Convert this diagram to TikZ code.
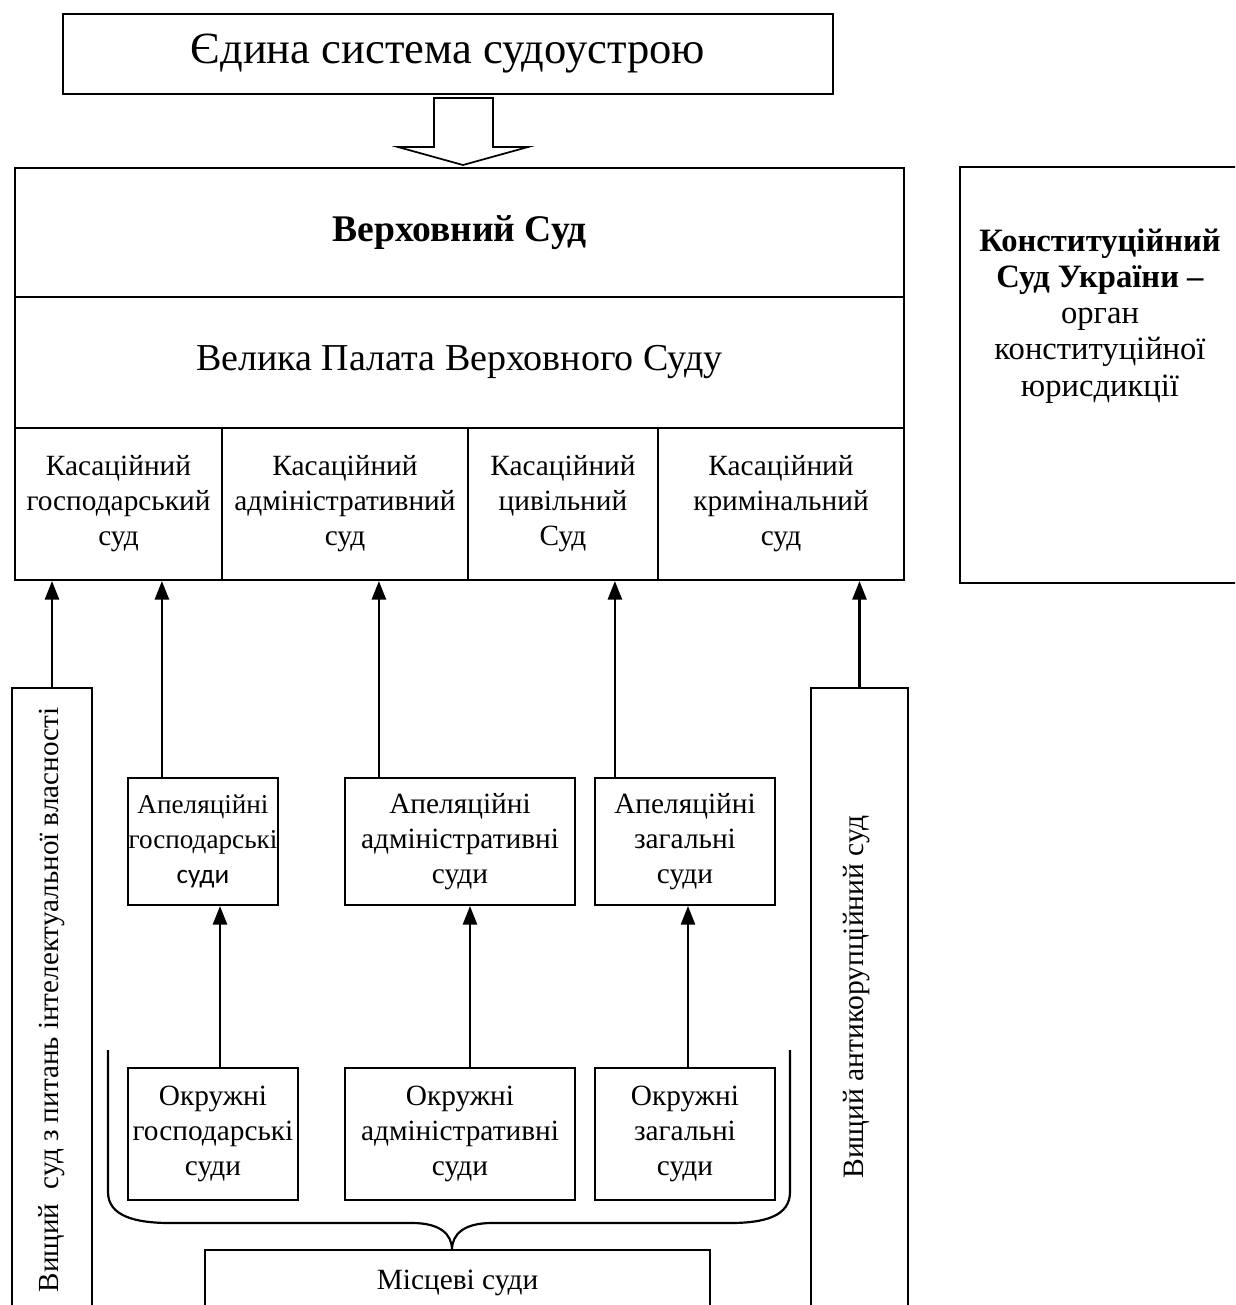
\documentclass[tikz,border=0pt]{standalone}
\usepackage{fontspec}
\setmainfont{Liberation Serif}
\newfontfamily\calibrifont{Carlito}
\usetikzlibrary{arrows.meta,calc,positioning}
\newcommand{\px}{0.46pt}
\newcommand{\fs}[1]{\fontsize{#1}{16.1}\selectfont}

\tikzset{
  cell/.style={draw, line width=1pt, align=center, inner sep=0pt, font=\fs{13.5}},
  arr/.style={-{Triangle[width=6.5pt,length=8.5pt]}, line width=1pt},
}

\begin{document}
\begin{tikzpicture}[x=0.46pt, y=-0.46pt]
    \useasboundingbox (0,0) rectangle (1235,1305);
    \clip (0,0) rectangle (1235,1305);

    % Top box and hollow arrow
    \node[cell, minimum width=770*\px, minimum height=80*\px, font=\fs{20.5}] (sys) at (448,54) {Єдина система судоустрою};
    \draw[line width=0.8pt, fill=white] (434,98) -- (493,98) -- (493,147) -- (528,147) -- (463,165) -- (398,147) -- (434,147) -- cycle;

    % Supreme Court
    \node[cell, minimum width=889*\px, minimum height=129*\px, font=\fs{17.3}\bfseries] (vs) at (459.5,232.5) {Верховний Суд};
    \node[cell, minimum width=889*\px, minimum height=131*\px, font=\fs{17.5}] (vp) at (459.5,362.5) {Велика Палата Верховного Суду};
    \node[cell, minimum width=207*\px, minimum height=152*\px] (k1) at (118.5,504) {Касаційний\\господарський\\суд};
    \node[cell, minimum width=246*\px, minimum height=152*\px] (k2) at (345,504) {Касаційний\\адміністративний\\суд};
    \node[cell, minimum width=190*\px, minimum height=152*\px] (k3) at (563,504) {Касаційний\\цивільний\\Суд};
    \node[cell, minimum width=246*\px, minimum height=152*\px] (k4) at (781,504) {Касаційний\\кримінальний\\суд};

    % Constitutional Court
    \node[cell, minimum width=300*\px, minimum height=416*\px] (ksu) at (1110,375) {};
    \node[align=center, font=\fontsize{15}{16.6}\selectfont] (ksut) at (1100,316) {\textbf{Конституційний}\\\textbf{Суд України –}\\орган\\конституційної\\юрисдикції};

    % Higher specialized courts
    \node[cell, minimum width=80*\px, minimum height=632*\px] (vl) at (52,1004) {};
    \node[rotate=90, font=\fs{13.4}] (vlt) at (52,1000) {Вищий\ \ суд з питань інтелектуальної власності};
    \node[cell, minimum width=97*\px, minimum height=632*\px] (vr) at (859.5,1004) {};
    \node[rotate=90, font=\fs{13.6}] (vrt) at (857,997) {Вищий антикорупційний суд};

    % Appeal courts
    \node[cell, minimum width=150*\px, minimum height=127*\px, font=\fs{12.5}] (a1) at (203,841.5) {Апеляційні\\господарські\\{\calibrifont суди}};
    \node[cell, minimum width=230*\px, minimum height=127*\px] (a2) at (460,841.5) {Апеляційні\\адміністративні\\суди};
    \node[cell, minimum width=180*\px, minimum height=127*\px] (a3) at (685,841.5) {Апеляційні\\загальні\\суди};

    % District courts
    \node[cell, minimum width=170*\px, minimum height=132*\px] (d1) at (213,1134) {Окружні\\господарські\\суди};
    \node[cell, minimum width=230*\px, minimum height=132*\px] (d2) at (460,1134) {Окружні\\адміністративні\\суди};
    \node[cell, minimum width=180*\px, minimum height=132*\px] (d3) at (685,1134) {Окружні\\загальні\\суди};

    % Brace and local courts
    \draw[line width=1pt] (108,1050) -- (108,1192) .. controls (108,1216) and (135,1223) .. (170,1223) -- (412,1223) .. controls (440,1223) and (452,1234) .. (452,1250) .. controls (452,1234) and (464,1223) .. (492,1223) -- (730,1223) .. controls (765,1223) and (790,1216) .. (790,1192) -- (790,1050);
    \node[cell, minimum width=505*\px, minimum height=66*\px] (ms) at (457.5,1283) {Місцеві суди};

    % Arrows to cassation courts
    \coordinate (q1) at ($(a1.north west)+(35,0)$);
    \coordinate (q2) at ($(a2.north west)+(35,0)$);
    \coordinate (q3) at ($(a3.north west)+(21,0)$);
    \draw[arr] (vl.north) -- (vl.north |- k1.south);
    \draw[arr] (q1) -- (q1 |- k1.south);
    \draw[arr] (q2) -- (q2 |- k2.south);
    \draw[arr] (q3) -- (q3 |- k3.south);
    \draw[arr] (vr.north) -- (vr.north |- k4.south);

    % Arrows to appeal courts
    \coordinate (p1) at ($(d1.north)+(7,0)$);
    \coordinate (p2) at ($(d2.north)+(10,0)$);
    \coordinate (p3) at ($(d3.north)+(3,0)$);
    \draw[arr] (p1) -- (p1 |- a1.south);
    \draw[arr] (p2) -- (p2 |- a2.south);
    \draw[arr] (p3) -- (p3 |- a3.south);
\end{tikzpicture}
\end{document}
